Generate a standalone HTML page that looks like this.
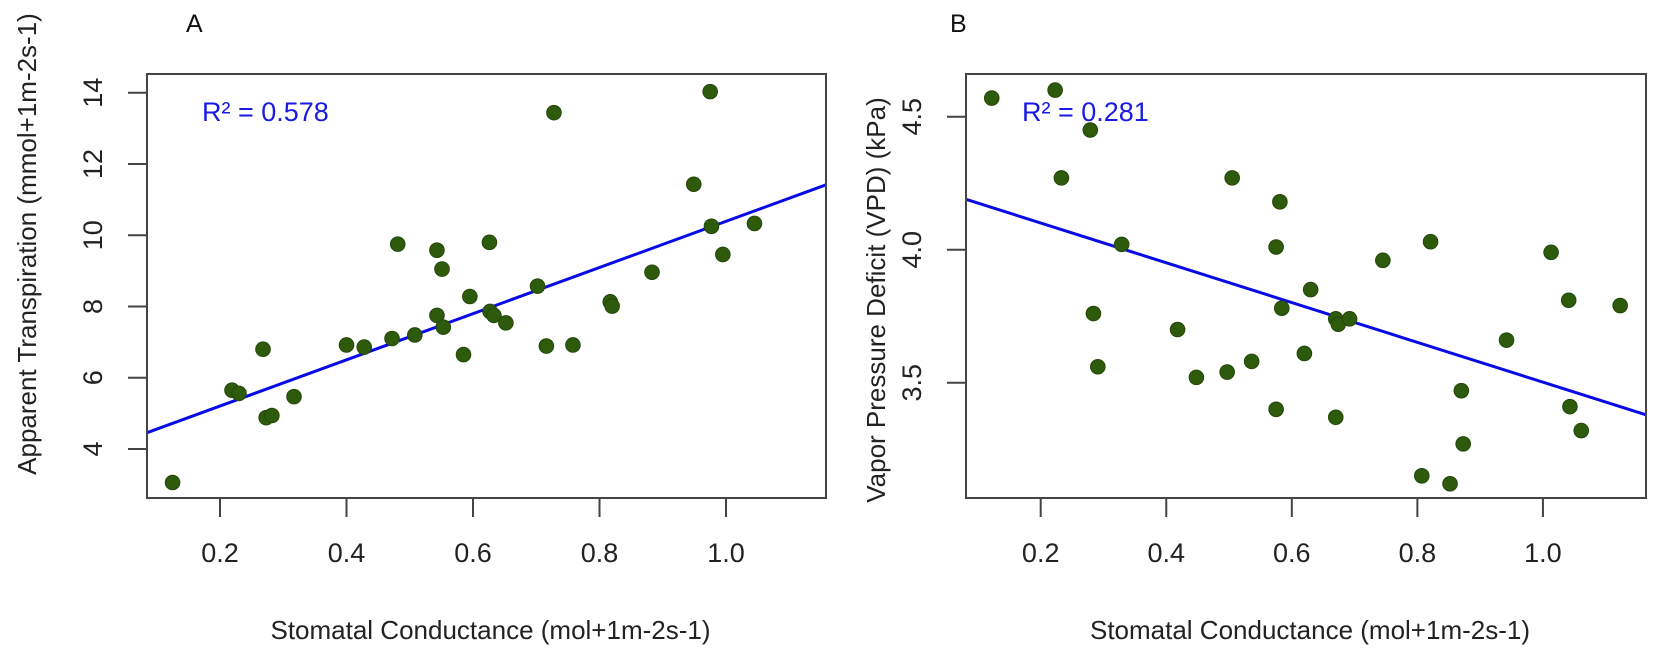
<!DOCTYPE html>
<html><head><meta charset="utf-8"><style>
html,body{margin:0;padding:0;background:#fff;}
svg{display:block;font-family:"Liberation Sans",Arial,sans-serif;}
</style></head><body>
<svg id="chart" width="1654" height="651" viewBox="0 0 1654 651"></svg>
<script>
// Panel A data
const gsA = [0.125,0.219,0.23,0.268,0.273,0.282,0.317,0.4,0.428,0.472,0.481,0.508,0.543,0.543,0.551,0.553,0.585,0.595,0.626,0.627,0.633,0.652,0.702,0.716,0.728,0.758,0.817,0.82,0.883,0.949,0.975,0.977,0.995,1.045];
const transA = [3.06,5.65,5.56,6.8,4.88,4.94,5.47,6.92,6.86,7.1,9.75,7.2,9.58,7.75,9.05,7.42,6.65,8.28,9.8,7.86,7.75,7.54,8.57,6.89,13.44,6.92,8.13,8.01,8.96,11.43,14.03,10.25,9.46,10.33];
const fitA = [3.91, 6.48]; // intercept, slope
const xTicksA = [0.2,0.4,0.6,0.8,1.0];
const yTicksA = [4,6,8,10,12,14];
// Panel B data
const gsB = [0.122,0.223,0.279,0.233,0.329,0.284,0.291,0.418,0.448,0.497,0.505,0.536,0.575,0.581,0.575,0.584,0.62,0.63,0.67,0.674,0.692,0.67,0.745,0.807,0.821,0.852,0.87,0.873,0.942,1.013,1.041,1.043,1.061,1.123];
const vpdB = [4.57,4.6,4.45,4.27,4.02,3.76,3.56,3.7,3.52,3.54,4.27,3.58,4.01,4.18,3.4,3.78,3.61,3.85,3.74,3.72,3.74,3.37,3.96,3.15,4.03,3.12,3.47,3.27,3.66,3.99,3.81,3.41,3.32,3.79];
const fitB = [4.25, -0.748];
const xTicksB = [0.2,0.4,0.6,0.8,1.0];
const yTicksB = [3.5,4.0,4.5];

const NS='http://www.w3.org/2000/svg';
const svg=document.getElementById('chart');
function mk(tag,attrs,parent){const e=document.createElementNS(NS,tag);for(const k in attrs)e.setAttribute(k,attrs[k]);(parent||svg).appendChild(e);return e;}

function panel(o){
  const g=mk('g',{});
  
  
  const sx=v=>o.x0px+(v-o.x0v)*o.xs;
  const sy=v=>o.y0px-(v-o.y0v)*o.ys;
  const fx=(px)=>o.x0v+(px-o.x0px)/o.xs;
  // regression line clipped to box
  const xl=fx(o.L), xr=fx(o.R);
  const ln=mk('line',{x1:o.L,y1:sy(o.fit[0]+o.fit[1]*xl),x2:o.R,y2:sy(o.fit[0]+o.fit[1]*xr),stroke:'#0a0ae6','stroke-width':3},g);
  
  
  // points
  o.xs_.forEach((v,i)=>{
    const c=mk('circle',{cx:sx(v),cy:sy(o.ys_[i]),r:7.3,fill:'#2e5a0c',stroke:'#24470a','stroke-width':1},g);
    
    
  });
  // box
  const b=mk('rect',{x:o.L,y:o.T,width:o.R-o.L,height:o.B-o.T,fill:'none',stroke:'#444','stroke-width':2},g);
  
  
  // x ticks
  o.xt.forEach(v=>{
    const t=mk('line',{x1:sx(v),x2:sx(v),y1:o.B,y2:o.B+19,stroke:'#444','stroke-width':2},g);
    
    
    const tx=mk('text',{x:sx(v),y:562,'font-size':27,'text-anchor':'middle',fill:'#222'},g);
    tx.textContent=v.toFixed(1);
    
    
  });
  // y ticks
  o.yt.forEach(v=>{
    const t=mk('line',{x1:o.L-19,x2:o.L,y1:sy(v),y2:sy(v),stroke:'#444','stroke-width':2},g);
    
    
    const tx=mk('text',{x:0,y:0,'font-size':27,'text-anchor':'middle',fill:'#222',transform:`translate(${o.L-45},${sy(v)}) rotate(-90)`},g);
    tx.textContent=o.yfmt(v);
    
    
  });
  const xt=mk('text',{x:(o.L+o.R)/2+4,y:639,'font-size':26,'text-anchor':'middle',fill:'#222'},g);
  xt.textContent='Stomatal Conductance (mol+1m-2s-1)';
  
  
  const yt=mk('text',{x:0,y:0,'font-size':26,'text-anchor':'middle',fill:'#222',transform:`translate(${o.ytx},${o.yty}) rotate(-90)`},g);
  yt.textContent=o.ytitle;
  
  
  const r=mk('text',{x:o.rx,y:121,'font-size':27,fill:'#1a1ae0'},g);
  r.textContent=o.r2;
  
  
  const p=mk('text',{x:o.px,y:32,'font-size':25,fill:'#111'},g);
  p.textContent=o.panel;
  
  
}

panel({name:'panel-a',L:147,R:826,T:74,B:498,x0px:220,x0v:0.2,xs:632.5,y0px:449,y0v:4,ys:35.63,
  xs_:gsA,ys_:transA,fit:fitA,xt:xTicksA,yt:yTicksA,yfmt:v=>String(v),
  ytitle:'Apparent Transpiration (mmol+1m-2s-1)',ytx:36,yty:244,r2:'R² = 0.578',rx:202,panel:'A',px:186});
panel({name:'panel-b',L:966,R:1646,T:74,B:498,x0px:1040.7,x0v:0.2,xs:627.8,y0px:116.7,y0v:4.5,ys:266,
  xs_:gsB,ys_:vpdB,fit:fitB,xt:xTicksB,yt:yTicksB,yfmt:v=>v.toFixed(1),
  ytitle:'Vapor Pressure Deficit (VPD) (kPa)',ytx:885,yty:300,r2:'R² = 0.281',rx:1022,panel:'B',px:950});
</script>
</body></html>
